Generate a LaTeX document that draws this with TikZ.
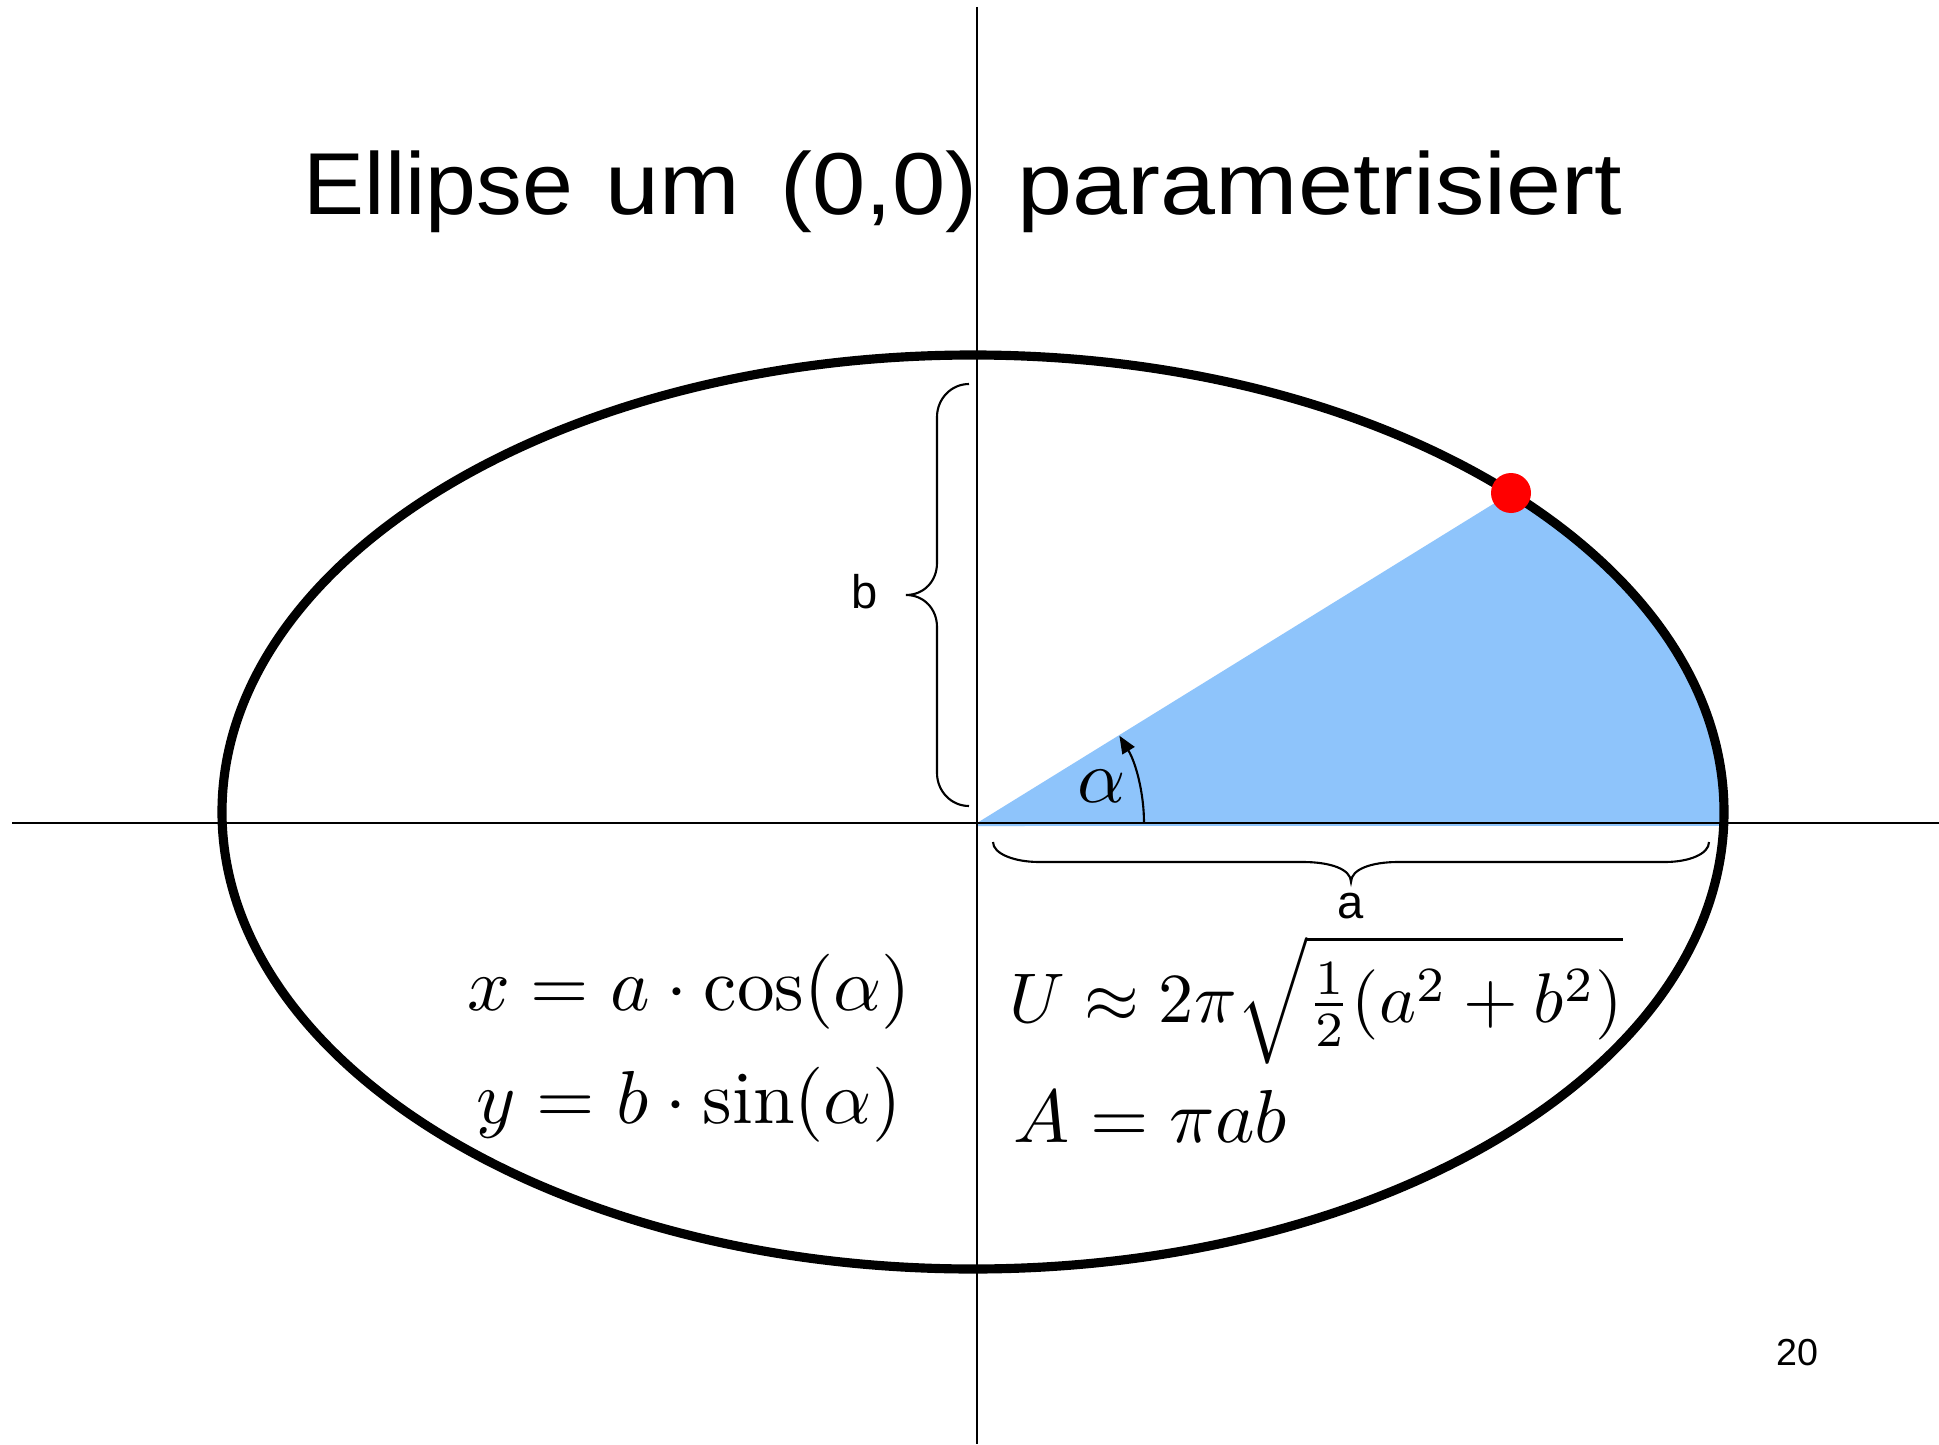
\documentclass[tikz,border=0pt]{standalone}
\usepackage{amsmath}
\usepackage{fontspec}
\newfontfamily\arial{Liberation Sans}
\usetikzlibrary{arrows.meta}
\definecolor{sectorblue}{RGB}{142,196,251}
\tikzset{
  axisline/.style={line width=0.72pt, black},
  ellipseline/.style={line width=2.6pt, black},
  bracelin/.style={line width=0.6pt, black},
  mathlbl/.style={inner sep=0pt, font=\fontsize{10}{12}\selectfont, scale=2.134},
  sanslbl/.style={inner sep=0pt, font=\arial\fontsize{13.4}{16}\selectfont},
  titleword/.style={inner sep=0pt, anchor=base west, font=\arial\fontsize{25}{30}\selectfont},
}
\begin{document}
\begin{tikzpicture}[x=0.01cm, y=0.01cm]
\useasboundingbox (0,0) rectangle (1939,1444);
\fill[white] (0,0) rectangle (1939,1444);
\coordinate (O) at (977,621);
\coordinate (C) at (973,632);
\coordinate (P) at (1511,951);
% sector
\fill[sectorblue] (O) -- (P) arc[start angle=44.25, end angle=-1.76, x radius=751, y radius=457] -- (977,618) -- cycle;
% axes
\coordinate (vtop) at (977,1437);
\coordinate (vbot) at (977,0);
\coordinate (hl) at (12,621);
\coordinate (hr) at (1939,621);
\draw[axisline] (vtop) -- (vbot);
\draw[axisline] (hl) -- (hr);
% ellipse
\draw[ellipseline] (C) ellipse [x radius=751, y radius=457];
% point
\fill[red] (P) circle (20);
% angle arrow
\coordinate (arcstart) at (1144,621);
\draw[line width=0.6pt, -{Triangle[length=5pt, width=4pt]}] (arcstart) arc[start angle=0, end angle=31.5, radius=167];
\node[mathlbl, anchor=base] (alpha) at (1102,642) {$\alpha$};
% brace b
\draw[bracelin] (969,1060) .. controls (951,1060) and (937,1045) .. (937,1027)
  -- (937,881) .. controls (937,863) and (924,849) .. (906,849)
  .. controls (924,849) and (937,835) .. (937,817)
  -- (937,671) .. controls (937,653) and (951,638) .. (969,638);
\node[sanslbl, anchor=base] (lb) at (865,836) {b};
% brace a
\draw[bracelin] (993,602) .. controls (993,590) and (1015,582) .. (1039,582)
  -- (1303,582) .. controls (1330,582) and (1351,575) .. (1351,562)
  .. controls (1351,575) and (1372,582) .. (1398,582)
  -- (1665,582) .. controls (1689,582) and (1709,590) .. (1709,602);
\node[sanslbl, anchor=base] (la) at (1351,526) {a};
% title
\node[titleword, xscale=1.04] (t1) at (303,1229) {Ellipse};
\node[titleword, xscale=1.10] (t2) at (605,1229) {um};
\node[titleword, xscale=1.09] (t3) at (780,1229) {(0,0)};
\node[titleword, xscale=1.125] (t4) at (1017,1229) {parametrisiert};
% equations
\node[mathlbl, anchor=base] (eqx) at (689,434) {$x = a\cdot\cos(\alpha)$};
\node[mathlbl, anchor=base] (eqy) at (689,321) {$y = b\cdot\sin(\alpha)$};
\node[mathlbl, scale=2.0/2.134, anchor=base west] (eqU) at (1008,422) {$U \approx 2\pi\sqrt{\tfrac{1}{2}(a^2+b^2)}$};
\node[mathlbl, anchor=base west] (eqA) at (1012,302) {$A = \pi ab$};
% page number
\node[inner sep=0pt, anchor=base, font=\arial\fontsize{10.7}{13}\selectfont] (pg) at (1797,79) {20};
\end{tikzpicture}
\end{document}
